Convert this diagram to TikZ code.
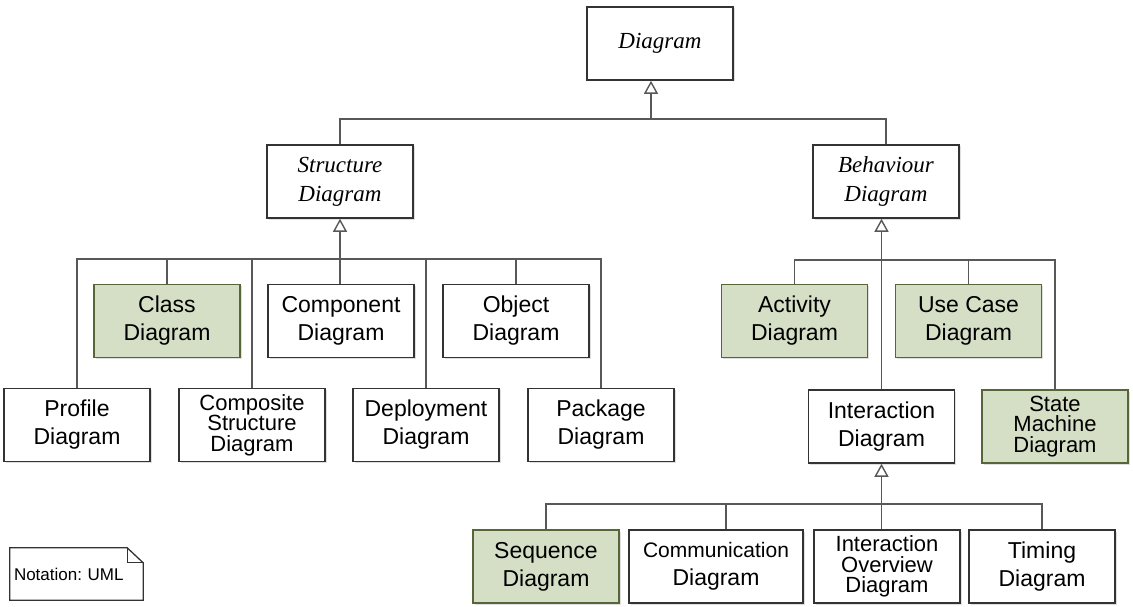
\documentclass[tikz,border=0pt]{standalone}
\usepackage{fontspec}
\setmainfont{Liberation Serif}
\setsansfont{Liberation Sans}
\usepackage{tikz}
\usetikzlibrary{arrows.meta,shadows}
\definecolor{umlgreen}{RGB}{212,223,198}
\definecolor{umlgreenline}{RGB}{86,102,56}
\definecolor{umlline}{RGB}{88,88,88}
\tikzstyle{box}=[rectangle,draw=black!80,line width=1.6pt,fill=white,
                 minimum width=146pt,minimum height=73pt,inner sep=0pt,
                 align=center,font=\sffamily\fontsize{23}{28}\selectfont,
                 drop shadow={shadow xshift=1.5pt,shadow yshift=-1.5pt,opacity=.25}]
\tikzstyle{usedbox}=[box,fill=umlgreen,draw=umlgreenline]
\tikzstyle{tight}=[font=\sffamily\fontsize{22}{20.5}\selectfont]
\tikzstyle{abstract}=[box,font=\itshape\fontsize{23}{29}\selectfont]
\tikzstyle{link}=[draw=umlline,line width=1.8pt]
\tikzstyle{gen}=[link,-{Triangle[open,width=14pt,length=13pt,line width=1.4pt]}]

\begin{document}
\frenchspacing
\begin{tikzpicture}[x=1pt,y=-1pt]
  \useasboundingbox (0,0) rectangle (1133,607);

  % abstract diagrams
  \node[abstract] (diag)   at (660,43.5)  {Diagram};
  \node[abstract] (struct) at (340,181.5) {Structure\\Diagram};
  \node[abstract] (behav)  at (886,181.5) {Behaviour\\Diagram};

  % structure diagrams
  \node[usedbox] (cls)    at (167,321) {Class\\Diagram};
  \node[box]     (comp)   at (341,321) {Component\\Diagram};
  \node[box]     (obj)    at (516,321) {Object\\Diagram};
  \node[box]     (prof)   at (77,425)  {Profile\\Diagram};
  \node[box,tight] (compo) at (252,425) {Composite\\Structure\\Diagram};
  \node[box]     (deploy) at (426,425) {Deployment\\Diagram};
  \node[box]     (pack)   at (601,425) {Package\\Diagram};

  % behaviour diagrams
  \node[usedbox] (act)   at (794.5,321) {Activity\\Diagram};
  \node[usedbox] (uc)    at (968.5,321) {Use Case\\Diagram};
  \node[box]     (inter) at (881.5,426.5) {Interaction\\Diagram};
  \node[usedbox,tight] (sm) at (1055,426.5) {State\\Machine\\Diagram};

  % interaction diagrams
  \node[usedbox] (seq)   at (546,566.5) {Sequence\\Diagram};
  \node[box,minimum width=174pt] (commu) at (716,566.5)
        {{\fontsize{21}{28}\selectfont Communication}\\Diagram};
  \node[box,tight] (iov) at (887,566.5) {Interaction\\Overview\\Diagram};
  \node[box]     (tim)   at (1042,566.5) {Timing\\Diagram};

  % note
  \node[font=\sffamily\fontsize{17}{20}\selectfont,minimum width=133pt,
        minimum height=52pt,inner xsep=4pt,inner ysep=0pt,text width=125pt,
        align=left] (note) at (76.5,574) {\raisebox{-4pt}{Notation: UML}};
  \draw[draw=black!80,line width=1.3pt]
        (note.south west) -- (note.north west) -- ([xshift=-16pt]note.north east)
        -- ([yshift=-15pt]note.north east) -- (note.south east) -- cycle;
  \draw[draw=black!80,line width=1.1pt]
        ([xshift=-16pt]note.north east) -- ([xshift=-16pt,yshift=-15pt]note.north east)
        -- ([yshift=-15pt]note.north east);

  % generalisation trees
  \coordinate (topbus) at (0,119);
  \draw[link] (struct.north) |- (behav.north |- topbus) -- (behav.north);
  \draw[gen] ([xshift=-9pt]diag.south |- topbus) -- ([xshift=-9pt]diag.south);

  \coordinate (sbus) at (0,259);
  \draw[link] (prof.north) |- (pack.north |- sbus) -- (pack.north);
  \foreach \n in {cls,compo,deploy,obj}
    \draw[link] (\n.north) -- (\n.north |- sbus);
  \draw[gen] (struct.south |- comp.north) -- (struct.south);

  \coordinate (bbus) at (0,260);
  \draw[link] (act.north) |- (sm.north |- bbus) -- (sm.north);
  \draw[link] (uc.north) -- (uc.north |- bbus);
  \draw[gen] (inter.north) -- (inter.north |- behav.south);

  \coordinate (ibus) at (0,504);
  \draw[link] (seq.north) |- (tim.north |- ibus) -- (tim.north);
  \draw[link] ([xshift=10pt]commu.north) -- ([xshift=10pt]commu.north |- ibus);
  \draw[gen] (inter.south |- iov.north) -- (inter.south);

\end{tikzpicture}
\end{document}
